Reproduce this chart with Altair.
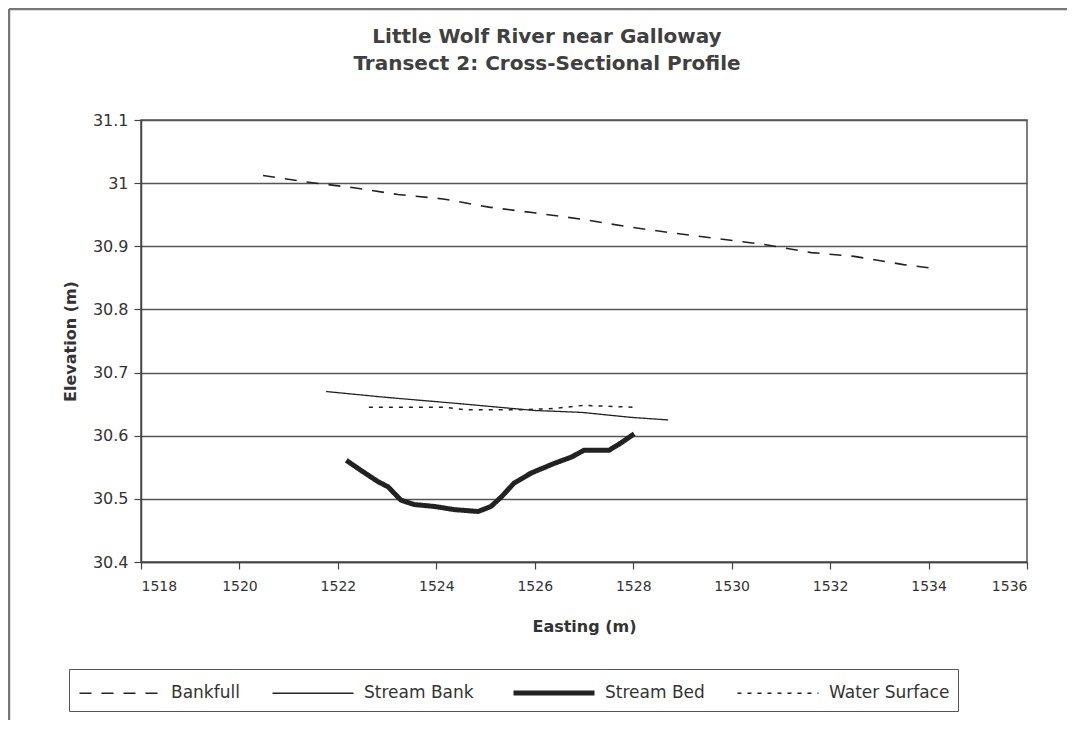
import altair as alt
import pandas as pd

series_names = ["Bankfull", "Stream Bank", "Stream Bed", "Water Surface"]

bankfull_x = [1520.48, 1521.35, 1522.29, 1523.22, 1524.14, 1525.07, 1525.99, 1526.94,
              1527.88, 1528.81, 1529.73, 1530.64, 1531.62, 1532.49, 1533.49, 1534.10]
bankfull_y = [31.012, 31.002, 30.993, 30.982, 30.975, 30.962, 30.953, 30.943,
              30.931, 30.921, 30.912, 30.903, 30.890, 30.884, 30.871, 30.865]

bank_x = [1521.76, 1522.94, 1524.44, 1525.99, 1526.94, 1527.96, 1528.71]
bank_y = [30.670, 30.661, 30.651, 30.640, 30.637, 30.629, 30.625]

bed_x = [1522.17, 1522.47, 1522.82, 1523.02, 1523.28, 1523.55, 1523.96, 1524.36, 1524.85,
         1525.11, 1525.32, 1525.58, 1525.93, 1526.39, 1526.74, 1527.00, 1527.51, 1527.76, 1528.02]
bed_y = [30.561, 30.545, 30.527, 30.519, 30.498, 30.491, 30.488, 30.483, 30.480,
         30.488, 30.503, 30.525, 30.541, 30.556, 30.566, 30.577, 30.577, 30.589, 30.603]

water_x = [1522.63, 1523.02, 1524.20, 1524.57, 1525.66, 1526.37, 1526.98, 1528.06]
water_y = [30.645, 30.645, 30.645, 30.641, 30.641, 30.643, 30.648, 30.645]

x_ticks = [1518, 1520, 1522, 1524, 1526, 1528, 1530, 1532, 1534, 1536]
y_ticks = [30.4, 30.5, 30.6, 30.7, 30.8, 30.9, 31.0, 31.1]

rows = []
for name, xs, ys in [("Bankfull", bankfull_x, bankfull_y), ("Stream Bank", bank_x, bank_y),
                     ("Stream Bed", bed_x, bed_y), ("Water Surface", water_x, water_y)]:
    for i, (a, b) in enumerate(zip(xs, ys)):
        rows.append({"series": name, "easting": a, "elev": b, "idx": i})
df = pd.DataFrame(rows)

FONT = "DejaVu Sans"

legend_def = alt.Legend(
    title=None, orient="none", legendX=-72, legendY=549, direction="horizontal",
    columns=4, symbolType="M-3,0H3", symbolSize=729, symbolStrokeColor="#222",
    symbolOffset=27, strokeColor="#555", padding=8,
    labelFont=FONT, labelFontSize=17, labelColor="#333",
    columnPadding=29, labelOffset=35,
)

lines = alt.Chart(df).mark_line(color="#222").encode(
    x=alt.X("easting:Q", scale=alt.Scale(domain=[1518, 1536], nice=False, zero=False),
            axis=alt.Axis(values=x_ticks, format="d", title="Easting (m)", grid=False,
                          titlePadding=25, labelPadding=10, labelFontSize=14)),
    y=alt.Y("elev:Q", scale=alt.Scale(domain=[30.4, 31.1], nice=False, zero=False),
            axis=alt.Axis(values=y_ticks, format="~f", title="Elevation (m)", grid=True,
                          titlePadding=14, labelPadding=6, labelFontSize=16)),
    strokeDash=alt.StrokeDash("series:N", sort=series_names,
                              scale=alt.Scale(domain=series_names,
                                              range=[[12, 10], [1, 0], [1, 0], [4, 6]]),
                              legend=legend_def),
    strokeWidth=alt.StrokeWidth("series:N", sort=series_names,
                                scale=alt.Scale(type="ordinal", domain=series_names,
                                                range=[1.6, 1.3, 5, 1.5]),
                                legend=legend_def),
    order="idx:Q",
)

frame_df = pd.DataFrame({"k": [0]})
frame_left = alt.Chart(frame_df).mark_rule(color="#777", strokeWidth=2.5).encode(
    x=alt.value(-132), y=alt.value(-111), y2=alt.value(600))
frame_top = alt.Chart(frame_df).mark_rule(color="#777", strokeWidth=2.5).encode(
    x=alt.value(-132), x2=alt.value(926), y=alt.value(-111))

chart = alt.layer(lines, frame_left, frame_top).properties(
    width=886, height=442,
    autosize=alt.AutoSizeParams(type="none"),
    padding={"left": 133, "top": 112, "right": 40, "bottom": 158},
    title=alt.TitleParams(
        ["Little Wolf River near Galloway", "Transect 2: Cross-Sectional Profile"],
        font=FONT, fontSize=20, fontWeight="bold", color="#404040",
        anchor="middle", frame="group", dx=-37, offset=-66, lineHeight=27,
    ),
).configure_view(stroke="#555", strokeWidth=1.5).configure_axis(
    domainColor="#444", domainWidth=1.5, tickColor="#444", tickWidth=1.2, tickSize=7,
    gridColor="#555", gridWidth=1.3,
    labelFont=FONT, labelColor="#333",
    titleFont=FONT, titleFontWeight="bold", titleFontSize=16, titleColor="#333",
)

chart.save("out.html", embed_options={"renderer": "svg", "actions": False})
